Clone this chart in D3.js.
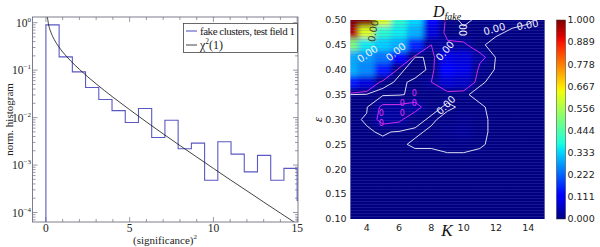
<!DOCTYPE html>
<html lang="en">
<head>
<meta charset="UTF-8">
<title>Fake clusters: histogram and D_fake map</title>
<script src="https://cdn.jsdelivr.net/npm/d3@7"></script>
<style>
  body { margin: 0; background: #fff; }
  svg { display: block; }
  .serif { font-family: "Liberation Serif", "DejaVu Serif", serif; }
  .sans { font-family: "DejaVu Sans", sans-serif; }
</style>
</head>
<body>
<svg id="fig" width="600" height="247"></svg>
<script>

// ---- left panel: normalised histogram of (significance)^2
const histRange = [0, 15];
const histValues = [0.9, 0.19, 0.092, 0.043, 0.024, 0.014, 0.0079, 0.0155, 0.0038, 0.0088,
                    0.0022, 0.0029, 0.00048, 0.0031, 0.0017, 0.00072, 0.0016, 0.00048, 0.00085];
const histTail = 0.00018;   // bin just past the right edge

// chi^2(1) curve
const chiX = [0.07, 0.15, 0.3, 0.5, 0.75, 1, 1.5, 2, 2.5, 3, 4, 5, 6, 7, 8, 9, 10, 11, 12, 13, 14, 15];
const chiY = [1.46, 0.956, 0.627, 0.439, 0.317, 0.242, 0.154, 0.104, 0.0723, 0.0514, 0.027, 0.0147,
              0.0081, 0.00455, 0.00258, 0.00148, 0.00085, 0.00049, 0.000286, 0.000166, 0.0000972, 0.000057];

const xTicks = [0, 5, 10, 15];
const yDecades = [0, -1, -2, -3, -4];
const legendLabels = ["fake clusters, test field 1", "\u03c7"];

// ---- right panel: D_fake over (K, epsilon)
const kVals = [3, 4, 5, 6, 7, 8, 9, 10, 11, 12, 13, 14, 15];
const epsVals = [0.500, 0.475, 0.450, 0.425, 0.400, 0.375, 0.350, 0.325, 0.300,
                 0.275, 0.250, 0.225, 0.200, 0.175, 0.150, 0.125, 0.100];
const dfake = [
  [1.00, 1.00, 0.62, 0.40, 0.34, 0.12, 0.004, 0.001, 0.003, 0.004, 0.004, 0.003, 0.000],
  [0.95, 0.62, 0.40, 0.36, 0.30, 0.08, 0.003, 0.003, 0.003, 0.003, 0.001, 0.000, 0.000],
  [0.50, 0.36, 0.33, 0.30, 0.16, 0.02, 0.030, 0.025, 0.003, 0.000, 0.000, 0.000, 0.000],
  [0.30, 0.28, 0.24, 0.13, 0.001, 0.003, 0.090, 0.080, 0.030, 0.001, 0.000, 0.000, 0.000],
  [0.30, 0.26, 0.15, 0.003, 0.000, 0.003, 0.110, 0.090, 0.010, 0.001, 0.000, 0.000, 0.000],
  [0.15, 0.08, 0.004, 0.001, 0.003, 0.020, 0.070, 0.060, 0.003, 0.000, 0.000, 0.000, 0.000],
  [0.002, 0.000, 0.000, 0.001, 0.004, 0.003, 0.004, 0.003, 0.000, 0.000, 0.000, 0.000, 0.000],
  [0.000, 0.001, 0.025, 0.025, 0.030, 0.004, 0.001, 0.003, 0.003, 0.000, 0.000, 0.000, 0.000],
  [0.000, 0.003, 0.030, 0.025, 0.004, 0.001, 0.004, 0.012, 0.004, 0.000, 0.000, 0.000, 0.000],
  [0.000, 0.001, 0.003, 0.001, 0.001, 0.003, 0.012, 0.018, 0.004, 0.000, 0.000, 0.000, 0.000],
  [0.000, 0.000, 0.000, 0.001, 0.003, 0.003, 0.006, 0.006, 0.003, 0.000, 0.000, 0.000, 0.000],
  [0, 0, 0, 0, 0, 0, 0, 0, 0, 0, 0, 0, 0],
  [0, 0, 0, 0, 0, 0, 0, 0, 0, 0, 0, 0, 0],
  [0, 0, 0, 0, 0, 0, 0, 0, 0, 0, 0, 0, 0],
  [0, 0, 0, 0, 0, 0, 0, 0, 0, 0, 0, 0, 0],
  [0, 0, 0, 0, 0, 0, 0, 0, 0, 0, 0, 0, 0],
  [0, 0, 0, 0, 0, 0, 0, 0, 0, 0, 0, 0, 0]
];
const contourLevels = [0.002, 0.02];
const contourColors = ["#f2f0ff", "#e030f0"];
// inline labels: [K, eps, text, angle, colour index]
const contourLabels = [
  [4.05, 0.432, "0.00", -35, 0], [5.8, 0.436, "0.00", -40, 0], [8.85, 0.438, "0.00", -50, 0],
  [8.9, 0.329, "0.00", -45, 0], [11.9, 0.482, "0.00", -15, 0], [13.95, 0.49, "0.00", -10, 0],
  [10.0, 0.48, "00", -90, 0], [4.4, 0.478, "0.00", -80, 2],
  [4.9, 0.312, "0", 0, 1], [4.9, 0.292, "0", 0, 1], [6.2, 0.332, "0", 0, 1],
  [6.2, 0.312, "0", 0, 1], [6.95, 0.352, "0", 0, 1], [6.95, 0.332, "0", 0, 1]
];
const kTicks = [4, 6, 8, 10, 12, 14];
const epsTicks = [0.10, 0.15, 0.20, 0.25, 0.30, 0.35, 0.40, 0.45, 0.50];
const cbTicks = [0.000, 0.111, 0.222, 0.333, 0.444, 0.556, 0.667, 0.778, 0.889, 1.000];

const svg = d3.select("#fig");
const defs = svg.append("defs");

// ================= left panel =================
const L = { x0: 32.5, x1: 298, y0: 17, y1: 222 };
const x = d3.scaleLinear().domain([-0.8, 15.05]).range([L.x0, L.x1]);
const y = d3.scaleLog().domain([Math.pow(10, -4.2), Math.pow(10, 0.12)]).range([L.y1, L.y0]);

defs.append("clipPath").attr("id", "clipL")
  .append("rect").attr("x", L.x0).attr("y", L.y0).attr("width", L.x1 - L.x0).attr("height", L.y1 - L.y0);

const left = svg.append("g");
const frameCol = "#6f6f80";

// ticks (inside, all four sides)
const minorX = d3.range(0, 16);
minorX.forEach(v => {
  const len = xTicks.includes(v) ? 5 : 3;
  left.append("line").attr("x1", x(v)).attr("x2", x(v)).attr("y1", L.y1).attr("y2", L.y1 - len)
    .attr("stroke", frameCol).attr("stroke-width", 0.7);
  left.append("line").attr("x1", x(v)).attr("x2", x(v)).attr("y1", L.y0).attr("y2", L.y0 + len)
    .attr("stroke", frameCol).attr("stroke-width", 0.7);
});
const yMinor = [];
[-5, -4, -3, -2, -1, 0].forEach(d => d3.range(1, 10).forEach(m => yMinor.push(m * Math.pow(10, d))));
yMinor.filter(v => y(v) >= L.y0 && y(v) <= L.y1).forEach(v => {
  const major = Math.abs(Math.log10(v) - Math.round(Math.log10(v))) < 1e-9;
  const len = major ? 5 : 3;
  left.append("line").attr("x1", L.x0).attr("x2", L.x0 + len).attr("y1", y(v)).attr("y2", y(v))
    .attr("stroke", frameCol).attr("stroke-width", 0.7);
  left.append("line").attr("x1", L.x1).attr("x2", L.x1 - len).attr("y1", y(v)).attr("y2", y(v))
    .attr("stroke", frameCol).attr("stroke-width", 0.7);
});

// histogram as a step line
const binW = (histRange[1] - histRange[0]) / histValues.length;
const stepPts = [[0, 1e-6]];
histValues.concat([histTail]).forEach((v, i) => {
  stepPts.push([i * binW, v]);
  stepPts.push([(i + 1) * binW, v]);
});
const lineXY = d3.line().x(d => x(d[0])).y(d => y(d[1]));
const plotL = left.append("g").attr("clip-path", "url(#clipL)");
plotL.append("path").attr("d", lineXY(stepPts))
  .attr("fill", "none").attr("stroke", "#5a58c4").attr("stroke-width", 1.1);

// chi^2(1)
const chiPts = chiX.map((v, i) => [v, chiY[i]]);
plotL.append("path").attr("d", d3.line().x(d => x(d[0])).y(d => y(d[1])).curve(d3.curveMonotoneX)(chiPts))
  .attr("fill", "none").attr("stroke", "#111").attr("stroke-width", 0.8);

left.append("rect").attr("x", L.x0).attr("y", L.y0).attr("width", L.x1 - L.x0).attr("height", L.y1 - L.y0)
  .attr("fill", "none").attr("stroke", frameCol).attr("stroke-width", 0.9);

// tick labels
left.selectAll(".xt").data(xTicks).join("text").attr("class", "serif")
  .attr("x", d => x(d)).attr("y", 232).attr("text-anchor", "middle")
  .attr("font-size", 11.5).attr("fill", "#222").text(d => d);
yDecades.forEach(d => {
  const t = left.append("text").attr("class", "serif").attr("x", 31).attr("y", y(Math.pow(10, d)) + 4)
    .attr("text-anchor", "end").attr("font-size", 11.5).attr("fill", "#222");
  t.append("tspan").text("10");
  t.append("tspan").attr("font-size", 7).attr("dy", -5).text(d === 0 ? "0" : "\u2212" + (-d));
});

// axis titles
const xl = left.append("text").attr("class", "serif").attr("x", 165).attr("y", 244)
  .attr("text-anchor", "middle").attr("font-size", 11).attr("fill", "#222");
xl.append("tspan").text("(significance)");
xl.append("tspan").attr("font-size", 7).attr("dy", -5).text("2");
left.append("text").attr("class", "serif")
  .attr("transform", `translate(12.5,${(L.y0 + L.y1) / 2}) rotate(-90)`)
  .attr("text-anchor", "middle").attr("font-size", 11).attr("fill", "#222").text("norm. histogram");

// legend
const lg = left.append("g");
lg.append("rect").attr("x", 183.5).attr("y", 23.5).attr("width", 114).attr("height", 29)
  .attr("fill", "#fff").attr("stroke", "#444").attr("stroke-width", 0.8);
lg.append("line").attr("x1", 186).attr("x2", 197).attr("y1", 31).attr("y2", 31)
  .attr("stroke", "#5a58c4").attr("stroke-width", 1.1);
lg.append("line").attr("x1", 186).attr("x2", 197).attr("y1", 45).attr("y2", 45)
  .attr("stroke", "#111").attr("stroke-width", 0.8);
lg.append("text").attr("class", "serif").attr("x", 200).attr("y", 34.5)
  .attr("font-size", 11).attr("textLength", 95).attr("lengthAdjust", "spacing")
  .attr("fill", "#222").text(legendLabels[0]);
const chiT = lg.append("text").attr("class", "serif").attr("x", 200).attr("y", 49)
  .attr("font-size", 12).attr("fill", "#222");
chiT.append("tspan").text(legendLabels[1]);
chiT.append("tspan").attr("font-size", 7.5).attr("dy", -5).text("2");
chiT.append("tspan").attr("dy", 5).text("(1)");

// ================= right panel =================
const R = { x0: 350.5, x1: 544.5, y0: 20, y1: 219 };
const kx = d3.scaleLinear().domain([3, 15]).range([R.x0, R.x1]);
const ey = d3.scaleLinear().domain([0.1, 0.5]).range([R.y1, R.y0]);

// matplotlib "jet"
const jetR = d3.scaleLinear().domain([0, 0.35, 0.66, 0.89, 1]).range([0, 0, 1, 1, 0.5]).clamp(true);
const jetG = d3.scaleLinear().domain([0, 0.125, 0.375, 0.64, 0.91, 1]).range([0, 0, 1, 1, 0, 0]).clamp(true);
const jetB = d3.scaleLinear().domain([0, 0.11, 0.34, 0.65, 1]).range([0.5, 1, 1, 0, 0]).clamp(true);
const color = d3.scaleSequential(v => d3.rgb(jetR(v) * 255, jetG(v) * 255, jetB(v) * 255).formatHex()).domain([0, 1]);

defs.append("clipPath").attr("id", "clipR")
  .append("rect").attr("x", R.x0).attr("y", R.y0).attr("width", R.x1 - R.x0).attr("height", R.y1 - R.y0);
const blur = defs.append("filter").attr("id", "soft")
  .attr("x", "-10%").attr("y", "-10%").attr("width", "120%").attr("height", "120%");
blur.append("feGaussianBlur").attr("stdDeviation", 2.8);

const right = svg.append("g");
const mapG = right.append("g").attr("clip-path", "url(#clipR)");
mapG.append("rect").attr("x", R.x0).attr("y", R.y0).attr("width", R.x1 - R.x0).attr("height", R.y1 - R.y0)
  .attr("fill", color(0));

const dK = kVals[1] - kVals[0];
const dE = epsVals[0] - epsVals[1];
const cells = [];
dfake.forEach((row, r) => row.forEach((v, c) => cells.push({ r, c, v })));
const cellG = mapG.append("g").attr("filter", "url(#soft)");
const cx0 = d => kx(kVals[d.c] - dK * (d.c === 0 ? 1.5 : 0.5));
const cx1 = d => kx(kVals[d.c] + dK * (d.c === kVals.length - 1 ? 1.5 : 0.5));
const cy0 = d => ey(epsVals[d.r] + dE * (d.r === 0 ? 1.5 : 0.5));
const cy1 = d => ey(epsVals[d.r] - dE * (d.r === epsVals.length - 1 ? 1.5 : 0.5));
cellG.selectAll("rect").data(cells).join("rect")
  .attr("x", cx0).attr("width", d => cx1(d) - cx0(d))
  .attr("y", cy0).attr("height", d => cy1(d) - cy0(d))
  .attr("fill", d => color(d.v));

// faint horizontal banding seen in the image
const band = defs.append("pattern").attr("id", "band").attr("patternUnits", "userSpaceOnUse")
  .attr("width", 8).attr("height", 3);
band.append("rect").attr("width", 8).attr("height", 1).attr("fill", "#6a6ad0").attr("opacity", 0.22);
mapG.append("rect").attr("x", R.x0).attr("y", R.y0).attr("width", R.x1 - R.x0).attr("height", R.y1 - R.y0)
  .attr("fill", "url(#band)");

// contours
const contours = d3.contours().size([kVals.length, epsVals.length]).thresholds(contourLevels)(dfake.flat());
const gridPath = d3.geoPath(d3.geoTransform({
  point(px, py) { this.stream.point(kx(kVals[0] + (px - 0.5) * dK), ey(epsVals[0] - (py - 0.5) * dE)); }
}));
mapG.selectAll(".ct").data(contours).join("path").attr("class", "ct")
  .attr("d", gridPath).attr("fill", "none")
  .attr("stroke", (d, i) => contourColors[i]).attr("stroke-width", 0.9).attr("stroke-linejoin", "round");

const labelFill = contourColors.concat(["#3a3a10"]);
mapG.selectAll(".cl").data(contourLabels).join("text").attr("class", "cl sans")
  .attr("transform", d => `translate(${kx(d[0])},${ey(d[1])}) rotate(${d[3]})`)
  .attr("text-anchor", "middle").attr("dominant-baseline", "central")
  .attr("font-size", d => d[2] === "0" ? 8 : 10).attr("fill", d => labelFill[d[4]]).text(d => d[2]);

// axes labels
right.selectAll(".kt").data(kTicks).join("text").attr("class", "sans")
  .attr("x", d => kx(d)).attr("y", 230.5).attr("text-anchor", "middle")
  .attr("font-size", 9.5).attr("fill", "#222").text(d => d);
right.selectAll(".et").data(epsTicks).join("text").attr("class", "sans")
  .attr("x", R.x0 - 4).attr("y", d => ey(d)).attr("dy", "0.35em").attr("text-anchor", "end")
  .attr("font-size", 9.5).attr("fill", "#222").text(d => d.toFixed(2));

const title = right.append("text").attr("class", "serif").attr("x", 433).attr("y", 16.5)
  .attr("font-size", 16).attr("font-style", "italic").attr("fill", "#111");
title.append("tspan").text("D");
title.append("tspan").attr("font-size", 10).attr("dy", 3).text("fake");
right.append("text").attr("class", "serif").attr("x", 447).attr("y", 236)
  .attr("text-anchor", "middle").attr("font-size", 17).attr("font-style", "italic").attr("fill", "#111").text("K");
right.append("text").attr("class", "serif")
  .attr("transform", `translate(322,${(R.y0 + R.y1) / 2}) rotate(-90)`)
  .attr("text-anchor", "middle").attr("font-size", 13).attr("font-style", "italic").attr("fill", "#111").text("\u03b5");

// colour bar
const CB = { x0: 556.5, x1: 565.5 };
const grad = defs.append("linearGradient").attr("id", "jetGrad")
  .attr("x1", 0).attr("y1", 1).attr("x2", 0).attr("y2", 0);
d3.range(0, 1.0001, 0.02).forEach(t => grad.append("stop").attr("offset", t).attr("stop-color", color(t)));
const cbY = d3.scaleLinear().domain([0, 1]).range([R.y1, R.y0]);
right.append("rect").attr("x", CB.x0).attr("y", cbY(1)).attr("width", CB.x1 - CB.x0)
  .attr("height", cbY(0) - cbY(1)).attr("fill", "url(#jetGrad)").attr("stroke", "#333").attr("stroke-width", 0.5);
right.selectAll(".cbt").data(cbTicks).join("text").attr("class", "sans")
  .attr("x", 567.5).attr("y", d => cbY(d)).attr("dy", "0.35em")
  .attr("font-size", 9.5).attr("fill", "#222").text(d => d.toFixed(3));

</script>
</body>
</html>
